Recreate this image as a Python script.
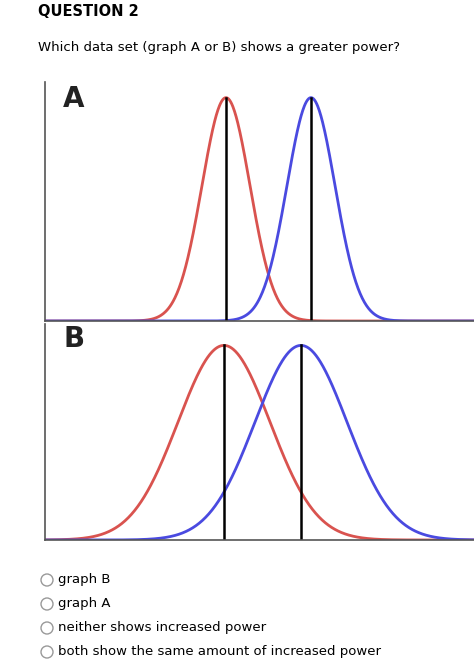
import numpy as np, pandas as pd, matplotlib
matplotlib.use("Agg")
import matplotlib.pyplot as plt, seaborn as sns

panels = ["A", "B"]
red_means = [181, 179]
blue_means = [266, 256]
sigmas = [24, 46]
ytops = [1.07, 1.11]
options = ["graph B", "graph A", "neither shows increased power",
           "both show the same amount of increased power"]

W, H = 474, 666
fig = plt.figure(figsize=(W/100, H/100), dpi=100)
fig.text(38/W, 1-12/H, "QUESTION 2", fontsize=10.5, fontweight="bold", va="center")
fig.text(38/W, 1-47/H, "Which data set (graph A or B) shows a greater power?", fontsize=9.5, va="center")

boxes = [(82, 321), (324, 540)]
x = np.linspace(0, 429, 800)
for i, p in enumerate(panels):
    top, bot = boxes[i]
    ax = fig.add_axes([45/W, 1-bot/H, (W-45)/W, (bot-top)/H])
    rows = []
    for name, m in (("red", red_means[i]), ("blue", blue_means[i])):
        y = np.exp(-0.5*((x-m)/sigmas[i])**2)
        rows.append(pd.DataFrame({"x": x, "y": y, "s": name}))
    df = pd.concat(rows)
    sns.lineplot(data=df, x="x", y="y", hue="s", palette={"red": "#d9534f", "blue": "#4a4ae0"},
                 ax=ax, legend=False, linewidth=2)
    for m in (red_means[i], blue_means[i]):
        ax.plot([m, m], [0, 1], color="black", lw=1.8)
    ax.set_xlim(0, 429); ax.set_ylim(0, ytops[i])
    ax.set_xticks([]); ax.set_yticks([]); ax.set_xlabel(""); ax.set_ylabel("")
    for s in ("top", "right"): ax.spines[s].set_visible(False)
    for s in ("left", "bottom"): ax.spines[s].set_color("#555"); ax.spines[s].set_linewidth(1.2)
    ax.text(18, ytops[i]*0.93, p, fontsize=20, fontweight="bold", va="center", color="#222")
    ax.patch.set_alpha(0)

for j, t in enumerate(options):
    yy = 1 - (580 + j*24)/H
    fig.patches.append(matplotlib.patches.Ellipse((47/W, yy), 12/W, 12/H, transform=fig.transFigure,
                       fill=False, edgecolor="#999", lw=1))
    fig.text(58/W, yy, t, fontsize=9.5, va="center")

fig.savefig("out.png", dpi=100)
